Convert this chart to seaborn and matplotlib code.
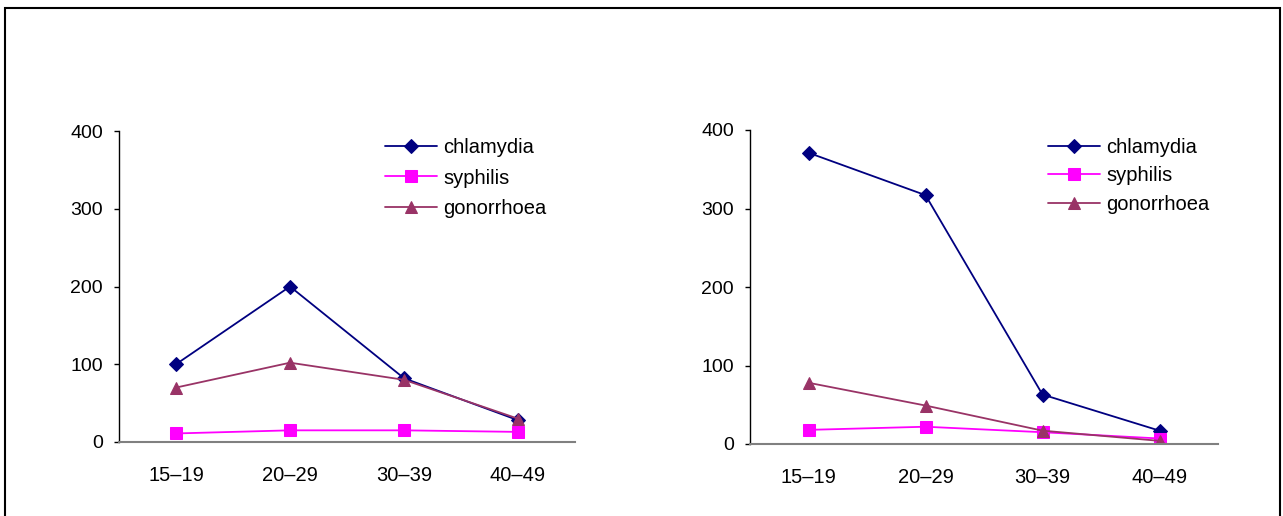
import matplotlib
matplotlib.use("Agg")
import matplotlib.pyplot as plt
import seaborn as sns
import pandas as pd
from matplotlib.patches import Rectangle

# Daten
age_groups = ["15–19", "20–29", "30–39", "40–49"]
diseases = ["chlamydia", "syphilis", "gonorrhoea"]

left_chlamydia = [100, 200, 82, 28]
left_syphilis = [11, 15, 15, 13]
left_gonorrhoea = [70, 102, 80, 30]

right_chlamydia = [371, 317, 63, 17]
right_syphilis = [18, 22, 15, 7]
right_gonorrhoea = [78, 49, 17, 4]

colors = {"chlamydia": "#000080", "syphilis": "#FF00FF", "gonorrhoea": "#993366"}
markers = {"chlamydia": "D", "syphilis": "s", "gonorrhoea": "^"}
msizes = {"chlamydia": 7, "syphilis": 8, "gonorrhoea": 9}


def to_long(chl, syp, gon):
    rows = []
    for name, vals in zip(diseases, [chl, syp, gon]):
        for i, v in enumerate(vals):
            rows.append({"age": i, "disease": name, "value": v})
    return pd.DataFrame(rows)


sns.set_style("white")
plt.rcParams["font.family"] = ["Liberation Sans", "DejaVu Sans"]
plt.rcParams["text.color"] = "black"
plt.rcParams["xtick.color"] = "black"
plt.rcParams["ytick.color"] = "black"

fig = plt.figure(figsize=(12.83, 5.16), dpi=100)

# Rahmen
fig.add_artist(Rectangle((5 / 1283, -0.1), 1275 / 1283, 1.1 - 8 / 516,
                         transform=fig.transFigure, fill=False,
                         edgecolor="black", linewidth=1.5))

ax_left = fig.add_axes([119 / 1283, 1 - 442 / 516, 456 / 1283, 311 / 516])
ax_right = fig.add_axes([750 / 1283, 1 - 444 / 516, 468 / 1283, 314 / 516])

panels = [
    (ax_left, to_long(left_chlamydia, left_syphilis, left_gonorrhoea), (0.583, 0.978), 0.58),
    (ax_right, to_long(right_chlamydia, right_syphilis, right_gonorrhoea), (0.637, 0.975), 0.47),
]

for ax, data, anchor, spacing in panels:
    for name in diseases:
        sub = data[data["disease"] == name]
        sns.lineplot(data=sub, x="age", y="value", ax=ax, color=colors[name],
                     marker=markers[name], markersize=msizes[name],
                     markeredgecolor=colors[name], linewidth=1.3, label=name)
    ax.set_xlim(-0.5, 3.5)
    ax.set_ylim(0, 400)
    ax.set_yticks([0, 100, 200, 300, 400])
    ax.set_xticks(range(4))
    ax.set_xticklabels(age_groups)
    ax.set_xlabel("")
    ax.set_ylabel("")
    for s in ["top", "right"]:
        ax.spines[s].set_visible(False)
    ax.spines["left"].set_color("black")
    ax.spines["left"].set_linewidth(1.0)
    ax.spines["bottom"].set_color("#808080")
    ax.spines["bottom"].set_linewidth(1.5)
    ax.tick_params(axis="y", direction="out", length=3.6, width=1, labelsize=14, pad=8, left=True)
    ax.tick_params(axis="x", length=0, labelsize=14.5, pad=17)
    ax.legend(loc="upper left", bbox_to_anchor=anchor, frameon=False,
              fontsize=14.5, handlelength=2.6, labelspacing=spacing, handletextpad=0.3,
              borderpad=0, borderaxespad=0)

fig.savefig("out.png", dpi=100)
